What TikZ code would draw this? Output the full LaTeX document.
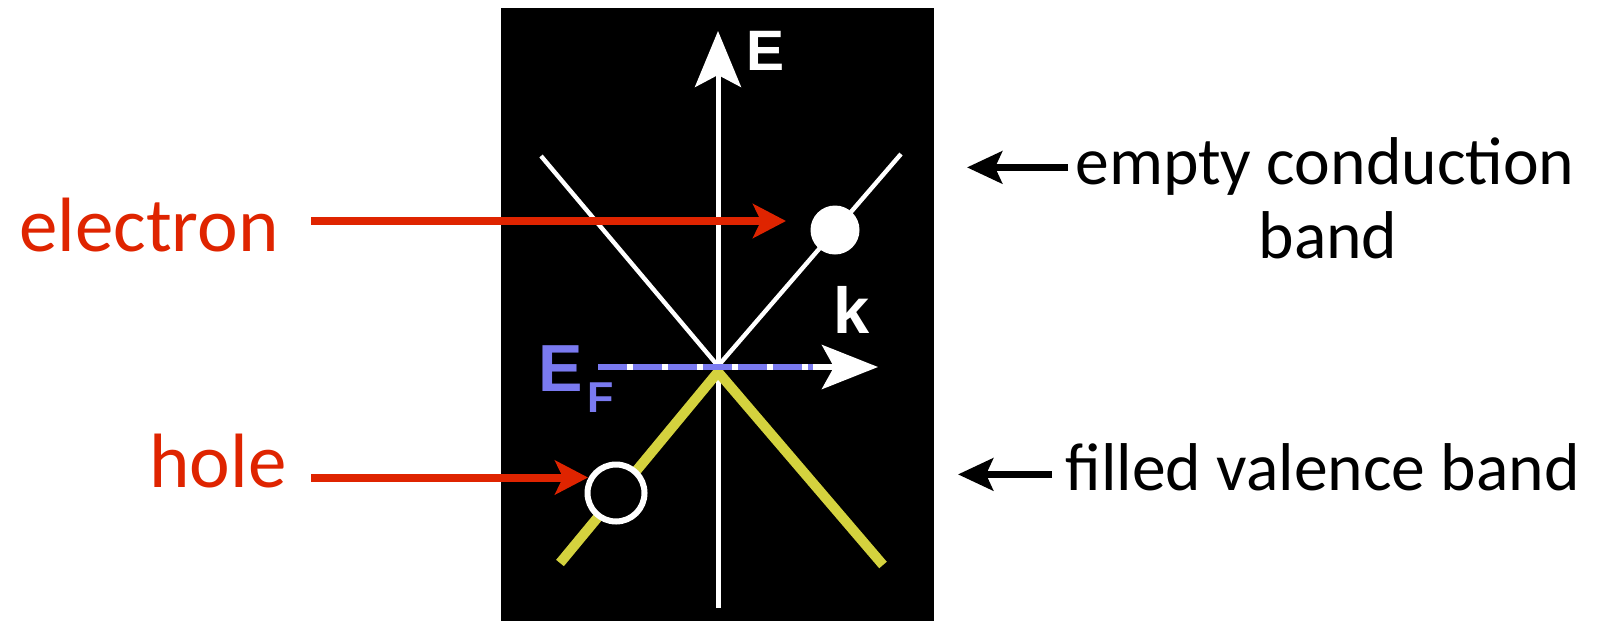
\documentclass[tikz,border=0pt]{standalone}
\usepackage{fontspec}
\setmainfont{Carlito}
\newfontfamily\axisfont{Liberation Sans}
\usetikzlibrary{arrows.meta}
\definecolor{labelred}{RGB}{223,36,0}
\definecolor{bandyellow}{RGB}{212,210,62}
\definecolor{fermiblue}{RGB}{122,122,240}
\begin{document}
\begin{tikzpicture}[x=0.5pt,y=-0.5pt,
  redtext/.style={text=labelred, inner sep=0pt, font=\fontsize{38.5pt}{40pt}\selectfont},
  blacktext/.style={text=black, inner sep=0pt, font=\fontsize{33.8pt}{36pt}\selectfont},
  axislabel/.style={text=white, inner sep=0pt, font=\axisfont\bfseries\fontsize{28.5pt}{30pt}\selectfont},
  redarr/.style={draw=labelred, line width=4pt, -{Stealth[length=16.5pt,width=17pt,inset=4pt]}},
  blackarr/.style={draw=black, line width=3.5pt, -{Stealth[length=17.5pt,width=16pt,inset=3.5pt]}},
  axisline/.style={draw=white, line width=2.5pt, -{Stealth[length=28pt,width=23pt,inset=6pt]}},
]
\useasboundingbox (0,0) rectangle (1610,621);
\fill[black] (501,8) rectangle (934,621);

% coordinates of the band diagram
\coordinate (Ebot) at (718,608);
\coordinate (Etop) at (718,31);
\coordinate (vtx) at (718,366);
\coordinate (cL) at (541,156);
\coordinate (cR) at (901,154);
\coordinate (vvtx) at (718,372);
\coordinate (vL) at (560,563);
\coordinate (vR) at (883,565);
\coordinate (kstart) at (598,367);
\coordinate (ktip) at (878,367);
\coordinate (fend) at (813,367);

\draw[axisline] (Ebot) -- (Etop);
\draw[white, line width=2.2pt] (cL) -- (vtx) -- (cR);
\draw[bandyellow, line width=5pt] (vL) -- (vvtx) -- (vR);
\draw[draw=white, line width=3pt, -{Stealth[length=28pt,width=22pt,inset=6pt]}] (kstart) -- (ktip);
\draw[fermiblue, line width=3pt, dash pattern=on 14.5pt off 3pt] (kstart) -- (fend);

\node[circle, fill=white, inner sep=0pt, minimum size=24.5pt] (el) at (835,230) {};
\node[circle, draw=white, line width=3pt, fill=black, inner sep=0pt, minimum size=28.5pt] (hl) at (616,493) {};

% axis labels
\node[axislabel, anchor=base west] (Elab) at (745.8,70.7) {E};
\node[axislabel, anchor=base west, font=\axisfont\bfseries\fontsize{32.5pt}{34pt}\selectfont] (klab) at (833,333.3) {k};
\node[axislabel, text=fermiblue, anchor=base west, font=\axisfont\bfseries\fontsize{33.3pt}{35pt}\selectfont] (EFlab) at (538.4,391.7) {E\kern2pt\raisebox{-10.5pt}{\fontsize{21.6pt}{23pt}\selectfont F}};

% red labels and arrows
\node[redtext, anchor=base east] (electron) at (279,251.6) {electron};
\node[redtext, anchor=base east] (hole) at (287,487.7) {hole};
\coordinate (eTail) at (311,221);
\coordinate (eTip) at (786,221);
\coordinate (hTail) at (311,477.5);
\coordinate (hTip) at (588,477.5);
\draw[redarr] (eTail) -- (eTip);
\draw[redarr] (hTail) -- (hTip);

% black labels and arrows
\node[blacktext, anchor=base west] (cond) at (1075,184) {empty conduction};
\node[blacktext, anchor=base] (band) at (1328,258) {band};
\node[blacktext, anchor=base west] (valence) at (1065,490) {filled valence band};
\coordinate (cTail) at (1068,167.4);
\coordinate (cTip) at (967,167.4);
\coordinate (vTail) at (1052,474.4);
\coordinate (vTip) at (958,474.4);
\draw[blackarr] (cTail) -- (cTip);
\draw[blackarr] (vTail) -- (vTip);
\end{tikzpicture}
\end{document}
